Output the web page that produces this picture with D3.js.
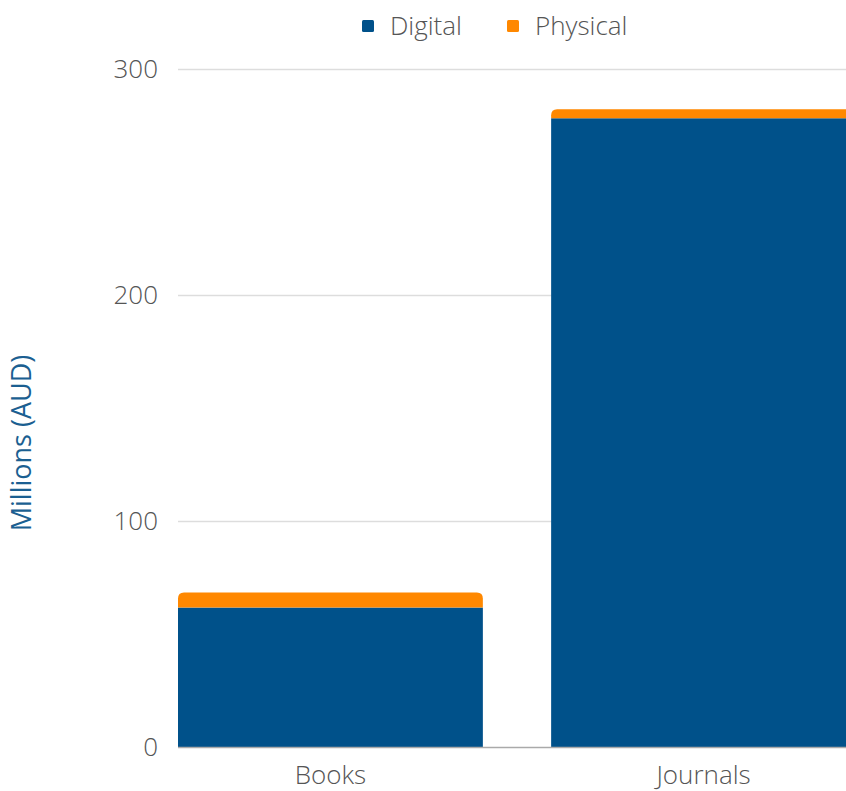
<!DOCTYPE html>
<html>
<head>
<meta charset="utf-8">
<script src="https://cdn.jsdelivr.net/npm/d3@7"></script>
<style>
  html, body { margin: 0; padding: 0; background: #fff; overflow: hidden; }
  svg { display: block; font-family: "Open Sans", "Noto Sans", sans-serif; }
</style>
</head>
<body>
<svg id="chart" width="846" height="791"></svg>
<script>
const categories = ["Books", "Journals"];
const seriesNames = ["Digital", "Physical"];
const digital = [61.7, 278.2];
const physical = [6.7, 4.0];
const yTicks = [0, 100, 200, 300];
const colors = ["#00518A", "#FF8800"];

const svg = d3.select("#chart");
const plotLeft = 178, plotRight = 856, plotTop = 69, plotBottom = 747;

const x = d3.scaleBand().domain(categories).range([plotLeft, plotRight]).paddingInner(0.183).paddingOuter(0);
const y = d3.scaleLinear().domain([0, 300]).range([plotBottom, plotTop]);

// gridlines
svg.append("g").selectAll("line").data(yTicks.filter(d => d > 0)).join("line")
  .attr("x1", plotLeft).attr("x2", plotRight)
  .attr("y1", d => y(d) + 0.5).attr("y2", d => y(d) + 0.5)
  .attr("stroke", "#dddddd").attr("stroke-width", 1.5);

// y tick labels
svg.append("g").selectAll("text").data(yTicks).join("text")
  .attr("x", 158).attr("y", d => y(d))
  .attr("dy", "0.35em")
  .attr("text-anchor", "end")
  .attr("font-size", 26)
  .attr("font-weight", 300)
  .attr("fill", "#555")
  .text(d => d);

// stacked data
const rows = categories.map((c, i) => ({ cat: c, Digital: digital[i], Physical: physical[i] }));
const stack = d3.stack().keys(seriesNames)(rows);

function roundedTop(x0, y0, w, h, r) {
  r = Math.min(r, h, w / 2);
  return `M${x0},${y0 + h}V${y0 + r}Q${x0},${y0} ${x0 + r},${y0}H${x0 + w - r}Q${x0 + w},${y0} ${x0 + w},${y0 + r}V${y0 + h}Z`;
}

stack.forEach((layer, li) => {
  const g = svg.append("g").attr("fill", colors[li]);
  layer.forEach(d => {
    const x0 = x(d.data.cat), w = x.bandwidth();
    const y0 = y(d[1]), h = y(d[0]) - y(d[1]);
    if (li === stack.length - 1) {
      g.append("path").attr("d", roundedTop(x0, y0, w, h, 6));
    } else {
      g.append("rect").attr("x", x0).attr("y", y0).attr("width", w).attr("height", h);
    }
  });
});

// baseline
svg.append("line")
  .attr("x1", plotLeft).attr("x2", plotRight)
  .attr("y1", plotBottom + 0.5).attr("y2", plotBottom + 0.5)
  .attr("stroke", "#aaaaaa").attr("stroke-width", 1.5);

// x labels
svg.append("g").selectAll("text").data(categories).join("text")
  .attr("x", d => x(d) + x.bandwidth() / 2)
  .attr("y", 784)
  .attr("text-anchor", "middle")
  .attr("font-size", 26)
  .attr("font-weight", 300)
  .attr("fill", "#555")
  .text(d => d);

// axis title
svg.append("text")
  .attr("transform", "translate(31,443) rotate(-90)")
  .attr("text-anchor", "middle")
  .attr("font-size", 27)
  .attr("fill", "#1B5F91")
  .text("Millions (AUD)");

// legend
const legendItems = [{ name: seriesNames[0], x: 362 }, { name: seriesNames[1], x: 507 }];
const lg = svg.append("g");
legendItems.forEach((it, i) => {
  lg.append("rect").attr("x", it.x).attr("y", 20).attr("width", 12).attr("height", 12).attr("rx", 1.5)
    .attr("fill", colors[i]);
  lg.append("text").attr("x", it.x + 28).attr("y", 26).attr("dy", "0.35em")
    .attr("font-size", 26).attr("font-weight", 300).attr("fill", "#555").text(it.name);
});
</script>
</body>
</html>
